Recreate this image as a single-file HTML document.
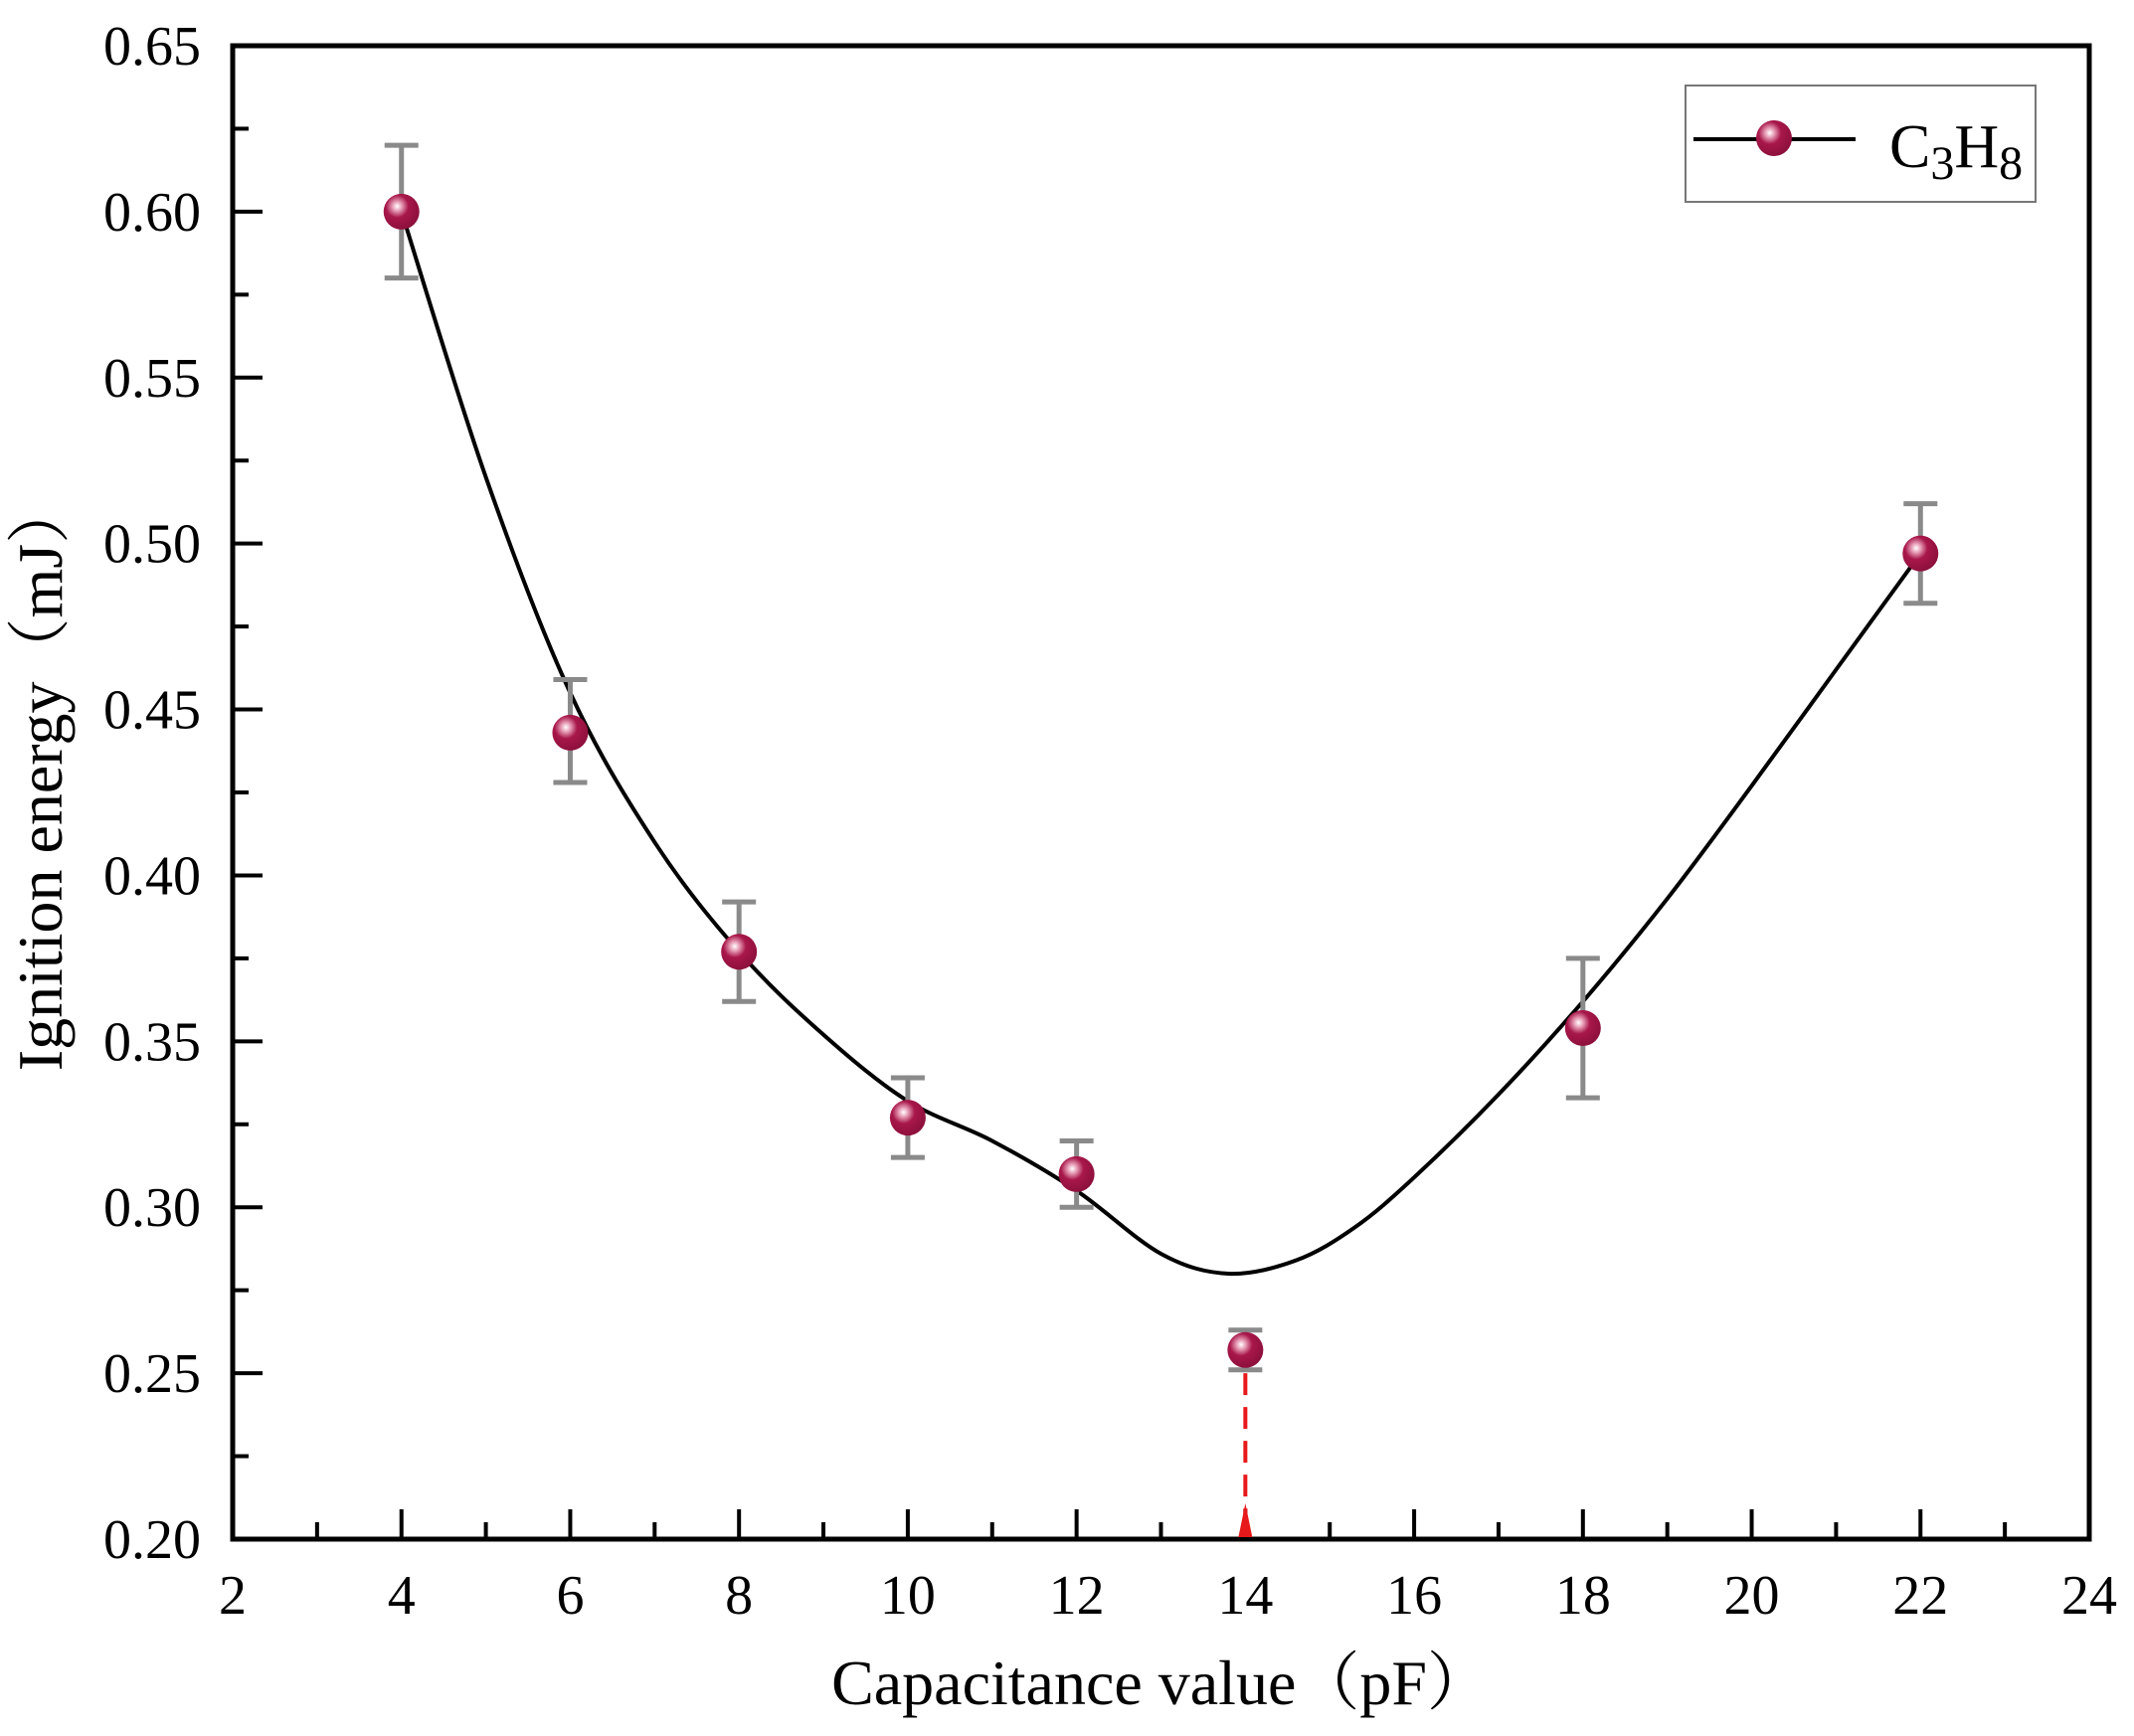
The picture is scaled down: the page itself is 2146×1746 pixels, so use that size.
<!DOCTYPE html>
<html><head><meta charset="utf-8">
<style>
html,body{margin:0;padding:0;background:#fff;}
svg{display:block;}
text{font-family:"Liberation Serif","Noto Serif CJK SC",serif;fill:#000;}
</style></head>
<body>
<svg id="chart" width="2146" height="1746" viewBox="0 0 2146 1746" xmlns="http://www.w3.org/2000/svg">
<defs>
<radialGradient id="ball" cx="0.38" cy="0.35" r="0.7">
<stop offset="0" stop-color="#ffffff"/>
<stop offset="0.18" stop-color="#e8a0b8"/>
<stop offset="0.45" stop-color="#a8174a"/>
<stop offset="1" stop-color="#8a0f3a"/>
</radialGradient>
</defs>
<g id="plot"></g>
</svg>
<script>
const xVals=[4,6,8,10,12,14,18,22];
const yVals=[0.600,0.443,0.377,0.327,0.310,0.257,0.354,0.497];
const errUp=[0.020,0.016,0.015,0.012,0.010,0.006,0.021,0.015];
const errDn=[0.020,0.015,0.015,0.012,0.010,0.006,0.021,0.015];
const curveX=[4,5,6,7,8,9,10,11,12,13,13.8,14.6,15.3,16,17,18,19,20,21,22];
const curveY=[0.600,0.520,0.455,0.410,0.377,0.352,0.332,0.320,0.305,0.286,0.280,0.284,0.294,0.309,0.334,0.362,0.393,0.427,0.462,0.497];
const xTicks=[2,4,6,8,10,12,14,16,18,20,22,24];
const yTicks=[0.20,0.25,0.30,0.35,0.40,0.45,0.50,0.55,0.60,0.65];
const markX=14, markY=0.250;

const L=234,R=2101,T=46,B=1548;
const sx=v=>L+(v-2)/22*(R-L);
const sy=v=>B-(v-0.2)/0.45*(B-T);
const NS="http://www.w3.org/2000/svg";
const g=document.getElementById('plot');
function mk(tag,attrs,parent){const e=document.createElementNS(NS,tag);for(const k in attrs)e.setAttribute(k,attrs[k]);(parent||g).appendChild(e);return e;}

const frame=mk('rect',{x:L,y:T,width:R-L,height:B-T,fill:'none',stroke:'#000','stroke-width':5});



for(let v=2;v<=24;v+=1){
  const major=(v%2===0);
  const t=mk('line',{x1:sx(v),x2:sx(v),y1:B,y2:B-(major?30:17),stroke:'#000','stroke-width':4});
  
  
}
xTicks.forEach(v=>{
  const t=mk('text',{x:sx(v),y:B+75,'font-size':56,'text-anchor':'middle'});
  t.textContent=v;
  
  
});
for(let i=0;i<=18;i++){
  const v=0.2+i*0.025, major=(i%2===0);
  const t=mk('line',{x1:L,x2:L+(major?30:16),y1:sy(v),y2:sy(v),stroke:'#000','stroke-width':4});
  
  
}
yTicks.forEach(v=>{
  const t=mk('text',{x:L-32,y:sy(v)+19,'font-size':56,'text-anchor':'end'});
  t.textContent=v.toFixed(2);
  
  
});
const xt=mk('text',{x:(L+R)/2,y:1714,'font-size':64,'text-anchor':'middle'});
xt.textContent='Capacitance value（pF）';


const yt=mk('text',{x:0,y:0,'font-size':64,'text-anchor':'middle',transform:'translate(62,780) rotate(-90)'});
yt.textContent='Ignition energy（mJ）';



const dl=mk('line',{x1:sx(markX),x2:sx(markX),y1:sy(markY),y2:B-20,stroke:'#e8191a','stroke-width':4,'stroke-dasharray':'22,12'});


const tri=mk('polygon',{points:`${sx(markX)-7},${B-2} ${sx(markX)+7},${B-2} ${sx(markX)},${B-36}`,fill:'#e8191a'});



const P=curveX.map((x,i)=>[sx(x),sy(curveY[i])]);
let d=`M${P[0][0]},${P[0][1]}`;
for(let i=0;i<P.length-1;i++){
  const p0=P[Math.max(0,i-1)],p1=P[i],p2=P[i+1],p3=P[Math.min(P.length-1,i+2)];
  const c1=[p1[0]+(p2[0]-p0[0])/6,p1[1]+(p2[1]-p0[1])/6];
  const c2=[p2[0]-(p3[0]-p1[0])/6,p2[1]-(p3[1]-p1[1])/6];
  d+=` C${c1[0]},${c1[1]} ${c2[0]},${c2[1]} ${p2[0]},${p2[1]}`;
}
const curve=mk('path',{d:d,fill:'none',stroke:'#000','stroke-width':4});



xVals.forEach((x,i)=>{
  const cx=sx(x), yT=sy(yVals[i]+errUp[i]), yB=sy(yVals[i]-errDn[i]);
  const eb=mk('path',{d:`M${cx},${yT}V${yB}M${cx-17},${yT}H${cx+17}M${cx-17},${yB}H${cx+17}`,stroke:'#8a8a8a','stroke-width':5,fill:'none'});
  
  
});
xVals.forEach((x,i)=>{
  const c=mk('circle',{cx:sx(x),cy:sy(yVals[i]),r:18,fill:'url(#ball)'});
  
  
});

const lg=mk('g',{});


mk('rect',{x:1695,y:86,width:352,height:117,fill:'#fff',stroke:'#777','stroke-width':2},lg);
mk('line',{x1:1703,x2:1866,y1:140,y2:140,stroke:'#000','stroke-width':4},lg);
mk('circle',{cx:1784,cy:139,r:18,fill:'url(#ball)'},lg);
const lt=mk('text',{x:1900,y:168,'font-size':62},lg);
lt.innerHTML='C<tspan font-size="48" dy="12">3</tspan><tspan dy="-12">H</tspan><tspan font-size="48" dy="12">8</tspan>';


</script>
</body></html>
